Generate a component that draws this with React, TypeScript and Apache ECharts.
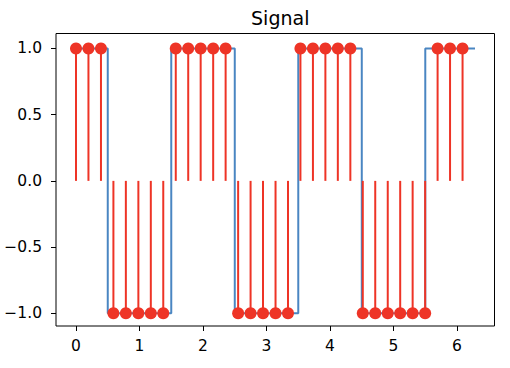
import React, { useEffect, useRef } from "react";
import * as echarts from "echarts";

// Continuous square-wave signal: breakpoints [x, y]
const signalX = [0, 0.5, 0.5, 1.5, 1.5, 2.5, 2.5, 3.5, 3.5, 4.5, 4.5, 5.5, 5.5, 6.283];
const signalY = [1, 1, -1, -1, 1, 1, -1, -1, 1, 1, -1, -1, 1, 1];

// Sampled points (stem plot)
const sampleX = [
  0, 0.196, 0.393, 0.589, 0.785, 0.982, 1.178, 1.374, 1.571, 1.767, 1.963,
  2.16, 2.356, 2.553, 2.749, 2.945, 3.142, 3.338, 3.534, 3.731, 3.927, 4.123,
  4.32, 4.516, 4.712, 4.909, 5.105, 5.301, 5.498, 5.694, 5.89, 6.087,
];
const sampleY = [
  1, 1, 1, -1, -1, -1, -1, -1, 1, 1, 1, 1, 1, -1, -1, -1, -1, -1, 1, 1, 1, 1,
  1, -1, -1, -1, -1, -1, -1, 1, 1, 1,
];

const xTicks = [0, 1, 2, 3, 4, 5, 6];
const yTicks = [-1, -0.5, 0, 0.5, 1];

const RED = "#ee3426";
const BLUE = "#4a86c2";
const FONT = "DejaVu Sans";

export default function App() {
  const ref = useRef<HTMLDivElement>(null);
  useEffect(() => {
    if (!ref.current) return;
    const chart = echarts.init(ref.current, undefined, { renderer: "svg" });
    const signal = signalX.map((x, i) => [x, signalY[i]]);
    const samples = sampleX.map((x, i) => [x, sampleY[i]]);
    const fmt = (v: number) => v.toFixed(1).replace("-", "\u2212");
    chart.setOption({
      animation: false,
      title: {
        text: "Signal",
        left: 275.25,
        top: 3,
        textAlign: "center",
        textStyle: { fontFamily: FONT, fontSize: 19, fontWeight: "normal", color: "#000" },
      },
      grid: {
        left: 56,
        top: 33.5,
        right: 15.5,
        bottom: 42,
        show: true,
        borderColor: "#000",
        borderWidth: 1,
        backgroundColor: "transparent",
      },
      xAxis: {
        type: "value",
        min: -0.315,
        max: 6.59,
        splitLine: { show: false },
        axisLine: { show: false, onZero: false },
        axisTick: { show: true, length: 5, customValues: xTicks, lineStyle: { color: "#000", width: 1 } },
        axisLabel: {
          customValues: xTicks,
          margin: 12,
          fontFamily: FONT,
          fontSize: 15.5,
          color: "#000",
          formatter: (v: number) => String(v),
        },
      },
      yAxis: {
        type: "value",
        min: -1.096,
        max: 1.113,
        splitLine: { show: false },
        axisLine: { show: false, onZero: false },
        axisTick: { show: true, length: 5, customValues: yTicks, lineStyle: { color: "#000", width: 1 } },
        axisLabel: {
          customValues: yTicks,
          margin: 14,
          fontFamily: FONT,
          fontSize: 15.5,
          color: "#000",
          formatter: fmt,
        },
      },
      series: [
        {
          type: "line",
          data: signal,
          showSymbol: false,
          lineStyle: { color: BLUE, width: 2 },
          z: 1,
        },
        {
          type: "custom",
          data: samples,
          z: 2,
          renderItem: (params: any, api: any) => {
            const x = api.value(0);
            const y = api.value(1);
            const p0 = api.coord([x, 0]);
            const p1 = api.coord([x, y]);
            return {
              type: "line",
              shape: { x1: p0[0], y1: p0[1], x2: p1[0], y2: p1[1] },
              style: { stroke: RED, lineWidth: 2 },
            };
          },
        },
        {
          type: "scatter",
          data: samples,
          symbol: "circle",
          symbolSize: 12,
          itemStyle: { color: RED, opacity: 1 },
          z: 3,
        },
      ],
    });
    return () => chart.dispose();
  }, []);
  return (
    <div
      ref={ref}
      style={{ position: "fixed", left: 0, top: 0, width: 510, height: 368, background: "#fff" }}
    />
  );
}
